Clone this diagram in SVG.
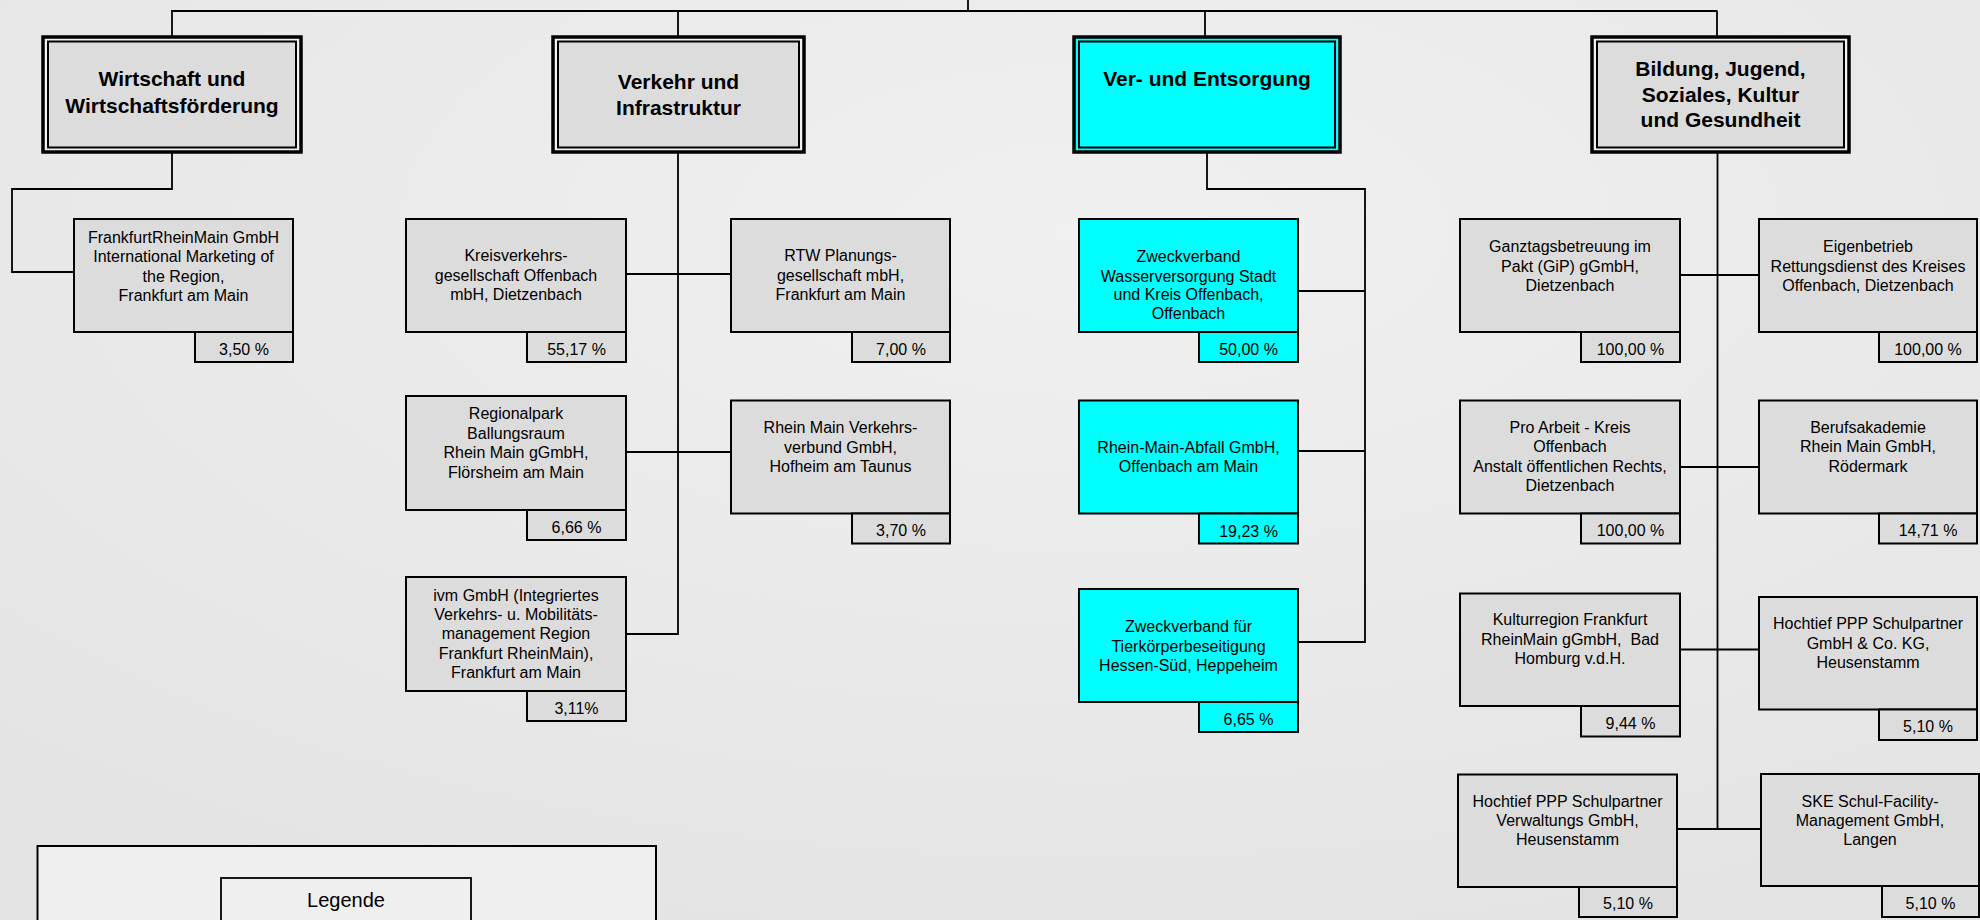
<svg xmlns="http://www.w3.org/2000/svg" width="1980" height="920" viewBox="0 0 1980 920">
<defs>
<radialGradient id="bg" cx="0.55" cy="0.25" r="0.8">
<stop offset="0" stop-color="#f0f0f0"/>
<stop offset="1" stop-color="#e4e4e4"/>
</radialGradient>
<style>
.t{font-family:"Liberation Sans",Arial,sans-serif;font-size:16px;fill:#000;text-anchor:middle}
.h{font-family:"Liberation Sans",Arial,sans-serif;font-size:21px;font-weight:bold;fill:#000;text-anchor:middle}
.lg{font-family:"Liberation Sans",Arial,sans-serif;font-size:20px;fill:#000;text-anchor:middle}
.box{fill:#dcdcdc;stroke:#000;stroke-width:2}
.cy{fill:#00ffff;stroke:#000;stroke-width:2}
.co{fill:#f2f2f2;stroke:#000;stroke-width:3.5}
.coc{fill:#00ffff;stroke:#000;stroke-width:3.5}
.ci{fill:#dcdcdc;stroke:#000;stroke-width:2}
.cic{fill:#00ffff;stroke:#000;stroke-width:2}
.ln{fill:none;stroke:#000;stroke-width:1.8}
</style>
</defs>
<rect width="1980" height="920" fill="url(#bg)"/>

<g id="connectors">
<path class="ln" d="M968,0 V11 M171,11 H1717.5 M172,11 V37 M678,11 V37 M1205,11 V37 M1717,11 V37"/>
<path class="ln" d="M172,152 V189 H12 V272 H74"/>
<path class="ln" d="M678,152 V634 H626 M626,274 H731 M626,452 H731"/>
<path class="ln" d="M1207,152 V189 H1365 V642 H1298 M1298,291 H1365 M1298,451 H1365"/>
<path class="ln" d="M1717.5,152 V829 M1680,275 H1759 M1680,467 H1759 M1680,649.5 H1759 M1677,829 H1761"/>
</g>

<g id="cat-wirtschaft">
<rect class="co" x="43" y="37" width="258" height="115"/>
<rect class="ci" x="48" y="41.5" width="248" height="106"/>
<text class="h" x="172" y="85.5">Wirtschaft und</text>
<text class="h" x="172" y="112.5">Wirtschaftsförderung</text>
</g>
<g id="cat-verkehr">
<rect class="co" x="553" y="37" width="251" height="115"/>
<rect class="ci" x="558" y="41.5" width="241" height="106"/>
<text class="h" x="678.5" y="88.5">Verkehr und</text>
<text class="h" x="678.5" y="115">Infrastruktur</text>
</g>
<g id="cat-versorgung">
<rect class="coc" x="1074" y="37" width="266" height="115"/>
<rect class="cic" x="1079" y="41.5" width="256" height="106"/>
<text class="h" x="1207" y="85.5">Ver- und Entsorgung</text>
</g>
<g id="cat-bildung">
<rect class="co" x="1592" y="37" width="257" height="115"/>
<rect class="ci" x="1597" y="41.5" width="247" height="106"/>
<text class="h" x="1720.5" y="76">Bildung, Jugend,</text>
<text class="h" x="1720.5" y="101.5">Soziales, Kultur</text>
<text class="h" x="1720.5" y="126.5">und Gesundheit</text>
</g>

<g id="n-frm">
<rect class="box" x="74" y="219" width="219" height="113"/>
<rect class="box" x="195" y="332" width="98" height="30"/>
<text class="t" x="183.5" y="242.5">FrankfurtRheinMain GmbH</text>
<text class="t" x="183.5" y="262">International Marketing of</text>
<text class="t" x="183.5" y="281.5">the Region,</text>
<text class="t" x="183.5" y="300.5">Frankfurt am Main</text>
<text class="t" x="244" y="354.5">3,50 %</text>
</g>

<g id="n-kvg">
<rect class="box" x="406" y="219" width="220" height="113"/>
<rect class="box" x="527" y="332" width="99" height="30"/>
<text class="t" x="516" y="261">Kreisverkehrs-</text>
<text class="t" x="516" y="280.5">gesellschaft Offenbach</text>
<text class="t" x="516" y="299.5">mbH, Dietzenbach</text>
<text class="t" x="576.5" y="354.5">55,17 %</text>
</g>
<g id="n-rtw">
<rect class="box" x="731" y="219" width="219" height="113"/>
<rect class="box" x="852" y="332" width="98" height="30"/>
<text class="t" x="840.5" y="261">RTW Planungs-</text>
<text class="t" x="840.5" y="280.5">gesellschaft mbH,</text>
<text class="t" x="840.5" y="299.5">Frankfurt am Main</text>
<text class="t" x="901" y="354.5">7,00 %</text>
</g>
<g id="n-regionalpark">
<rect class="box" x="406" y="396" width="220" height="114"/>
<rect class="box" x="527" y="510" width="99" height="30"/>
<text class="t" x="516" y="419">Regionalpark</text>
<text class="t" x="516" y="439">Ballungsraum</text>
<text class="t" x="516" y="458">Rhein Main gGmbH,</text>
<text class="t" x="516" y="477.5">Flörsheim am Main</text>
<text class="t" x="576.5" y="532.5">6,66 %</text>
</g>
<g id="n-rmv">
<rect class="box" x="731" y="400.5" width="219" height="113"/>
<rect class="box" x="852" y="513.5" width="98" height="30"/>
<text class="t" x="840.5" y="433">Rhein Main Verkehrs-</text>
<text class="t" x="840.5" y="452.5">verbund GmbH,</text>
<text class="t" x="840.5" y="472">Hofheim am Taunus</text>
<text class="t" x="901" y="536">3,70 %</text>
</g>
<g id="n-ivm">
<rect class="box" x="406" y="577" width="220" height="114"/>
<rect class="box" x="527" y="691" width="99" height="30"/>
<text class="t" x="516" y="601">ivm GmbH (Integriertes</text>
<text class="t" x="516" y="620">Verkehrs- u. Mobilitäts-</text>
<text class="t" x="516" y="639">management Region</text>
<text class="t" x="516" y="658.5">Frankfurt RheinMain),</text>
<text class="t" x="516" y="677.5">Frankfurt am Main</text>
<text class="t" x="576.5" y="713.5">3,11%</text>
</g>

<g id="n-zwv-wasser">
<rect class="cy" x="1079" y="219" width="219" height="113"/>
<rect class="cy" x="1199" y="332" width="99" height="30"/>
<text class="t" x="1188.5" y="262">Zweckverband</text>
<text class="t" x="1188.5" y="281.5">Wasserversorgung Stadt</text>
<text class="t" x="1188.5" y="300">und Kreis Offenbach,</text>
<text class="t" x="1188.5" y="319">Offenbach</text>
<text class="t" x="1248.5" y="354.5">50,00 %</text>
</g>
<g id="n-rma">
<rect class="cy" x="1079" y="400.5" width="219" height="113"/>
<rect class="cy" x="1199" y="513.5" width="99" height="30"/>
<text class="t" x="1188.5" y="453">Rhein-Main-Abfall GmbH,</text>
<text class="t" x="1188.5" y="472">Offenbach am Main</text>
<text class="t" x="1248.5" y="536.5">19,23 %</text>
</g>
<g id="n-tierkoerper">
<rect class="cy" x="1079" y="589" width="219" height="113"/>
<rect class="cy" x="1199" y="702" width="99" height="30"/>
<text class="t" x="1188.5" y="632">Zweckverband für</text>
<text class="t" x="1188.5" y="651.5">Tierkörperbeseitigung</text>
<text class="t" x="1188.5" y="670.5">Hessen-Süd, Heppeheim</text>
<text class="t" x="1248.5" y="724.5">6,65 %</text>
</g>

<g id="n-gip">
<rect class="box" x="1460" y="219" width="220" height="113"/>
<rect class="box" x="1581" y="332" width="99" height="30"/>
<text class="t" x="1570" y="252">Ganztagsbetreuung im</text>
<text class="t" x="1570" y="271.5">Pakt (GiP) gGmbH,</text>
<text class="t" x="1570" y="290.5">Dietzenbach</text>
<text class="t" x="1630.5" y="354.5">100,00 %</text>
</g>
<g id="n-rettungsdienst">
<rect class="box" x="1759" y="219" width="218" height="113"/>
<rect class="box" x="1879" y="332" width="98" height="30"/>
<text class="t" x="1868" y="252">Eigenbetrieb</text>
<text class="t" x="1868" y="271.5">Rettungsdienst des Kreises</text>
<text class="t" x="1868" y="290.5">Offenbach, Dietzenbach</text>
<text class="t" x="1928" y="354.5">100,00 %</text>
</g>
<g id="n-proarbeit">
<rect class="box" x="1460" y="400.5" width="220" height="113"/>
<rect class="box" x="1581" y="513.5" width="99" height="30"/>
<text class="t" x="1570" y="433">Pro Arbeit - Kreis</text>
<text class="t" x="1570" y="452">Offenbach</text>
<text class="t" x="1570" y="471.5">Anstalt öffentlichen Rechts,</text>
<text class="t" x="1570" y="491">Dietzenbach</text>
<text class="t" x="1630.5" y="536">100,00 %</text>
</g>
<g id="n-berufsakademie">
<rect class="box" x="1759" y="400.5" width="218" height="113"/>
<rect class="box" x="1879" y="513.5" width="98" height="30"/>
<text class="t" x="1868" y="433">Berufsakademie</text>
<text class="t" x="1868" y="452">Rhein Main GmbH,</text>
<text class="t" x="1868" y="471.5">Rödermark</text>
<text class="t" x="1928" y="536">14,71 %</text>
</g>
<g id="n-kulturregion">
<rect class="box" x="1460" y="593.5" width="220" height="112.5"/>
<rect class="box" x="1581" y="706" width="99" height="30.5"/>
<text class="t" x="1570" y="625">Kulturregion Frankfurt</text>
<text class="t" x="1570" y="645" xml:space="preserve">RheinMain gGmbH,  Bad</text>
<text class="t" x="1570" y="664">Homburg v.d.H.</text>
<text class="t" x="1630.5" y="728.5">9,44 %</text>
</g>
<g id="n-hochtief-kg">
<rect class="box" x="1759" y="597" width="218" height="112.5"/>
<rect class="box" x="1879" y="709.5" width="98" height="30.5"/>
<text class="t" x="1868" y="629">Hochtief PPP Schulpartner</text>
<text class="t" x="1868" y="649">GmbH &amp; Co. KG,</text>
<text class="t" x="1868" y="668">Heusenstamm</text>
<text class="t" x="1928" y="732">5,10 %</text>
</g>
<g id="n-hochtief-verw">
<rect class="box" x="1458" y="774.5" width="219" height="112.5"/>
<rect class="box" x="1579" y="887" width="98" height="30"/>
<text class="t" x="1567.5" y="807">Hochtief PPP Schulpartner</text>
<text class="t" x="1567.5" y="826">Verwaltungs GmbH,</text>
<text class="t" x="1567.5" y="845">Heusenstamm</text>
<text class="t" x="1628" y="909">5,10 %</text>
</g>
<g id="n-ske">
<rect class="box" x="1761" y="774" width="218" height="112"/>
<rect class="box" x="1882" y="886" width="97" height="31"/>
<text class="t" x="1870" y="807">SKE Schul-Facility-</text>
<text class="t" x="1870" y="826">Management GmbH,</text>
<text class="t" x="1870" y="845">Langen</text>
<text class="t" x="1930.5" y="909">5,10 %</text>
</g>

<g id="legend">
<rect x="37.5" y="846" width="618.5" height="90" fill="#efefef" stroke="#000" stroke-width="2"/>
<rect x="221" y="878" width="250" height="60" fill="#efefef" stroke="#000" stroke-width="1.8"/>
<text class="lg" x="346" y="907">Legende</text>
</g>
</svg>
